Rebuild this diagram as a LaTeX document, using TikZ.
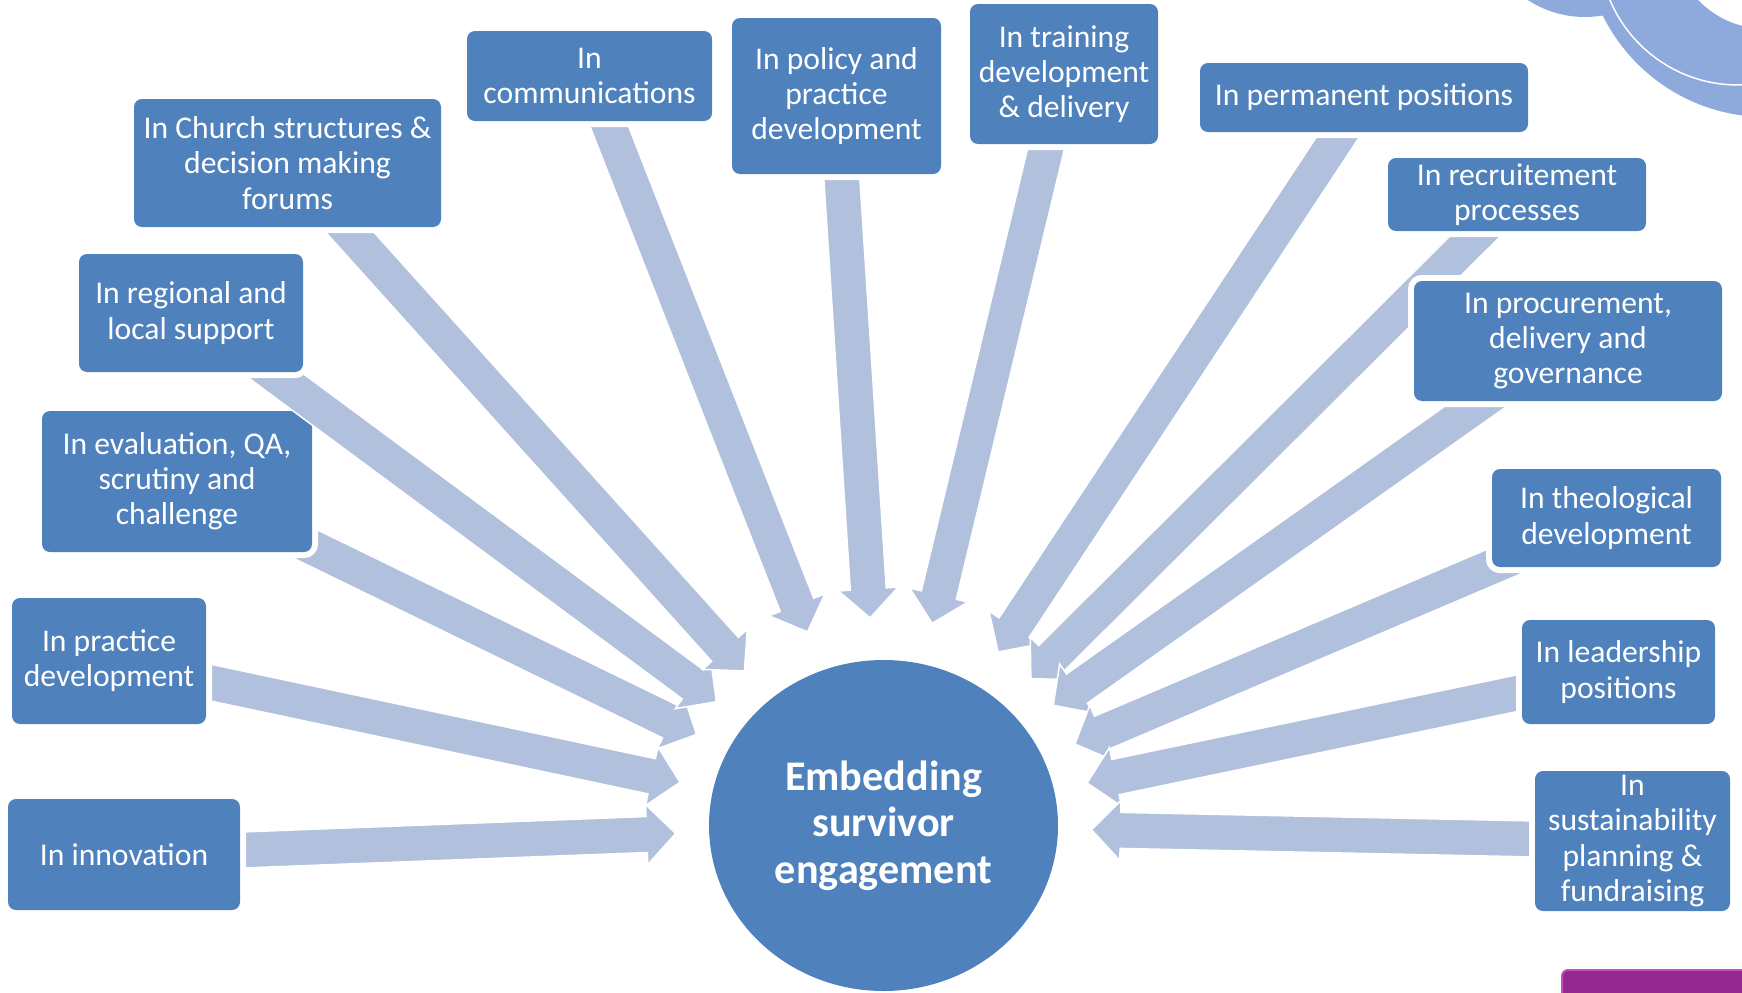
\documentclass[tikz,border=0pt]{standalone}
\usepackage{fontspec}
\setmainfont{Carlito}
\usetikzlibrary{calc,shapes.geometric}
\definecolor{boxblue}{RGB}{79,129,189}
\definecolor{spokeblue}{RGB}{177,193,221}
\definecolor{decoblue}{RGB}{142,169,219}
\definecolor{barpurple}{RGB}{147,40,143}
\definecolor{baredge}{RGB}{196,76,190}
\pgfdeclarelayer{under}
\pgfdeclarelayer{underbox}
\pgfdeclarelayer{spokes}
\pgfsetlayers{under,underbox,spokes,main}
\tikzset{
  topic/.style={rectangle, rounded corners=0.8mm, fill=boxblue, text=white, align=center, inner sep=0pt,
    font=\fontsize{9}{10}\selectfont, preaction={draw=white, line width=1.2mm}},
  hubnode/.style={ellipse, fill=boxblue, text=white, align=center, inner sep=0pt,
    minimum width=34.9mm, minimum height=33.1mm, font=\bfseries\fontsize{12}{13.2}\selectfont},
  spokefill/.style={fill=spokeblue, draw=white, line width=0.15mm},
}
% fat arrow from a box towards the hub
\newcommand{\spoke}[1]{%
  \path ($(hub.center)!20.8mm!(#1.center)$) coordinate (tip)
        ($(tip)!2.9mm!(#1.center)$) coordinate (neck);
  \filldraw[spokefill] ($(#1.center)!1.8mm!90:(tip)$) -- ($(neck)!1.8mm!90:(tip)$)
    -- ($(neck)!3mm!90:(tip)$) -- (tip) -- ($(neck)!3mm!-90:(tip)$)
    -- ($(neck)!1.8mm!-90:(tip)$) -- ($(#1.center)!1.8mm!-90:(tip)$) -- cycle;
}
\begin{document}
\begin{tikzpicture}[x=0.1mm, y=-0.1mm]
\useasboundingbox (0,0) rectangle (1742,992);
\begin{scope}
  \clip (0,0) rectangle (1742,992);
  \fill[decoblue] (1585,-88) circle[radius=10.5mm];
  \fill[decoblue, even odd rule] (1766,-65) circle[radius=18.2mm] (1766,-65) circle[radius=9.4mm];
  \draw[white, line width=0.15mm] (1738,-54) circle[radius=13.9mm];
  \filldraw[fill=barpurple, draw=baredge, line width=0.2mm, rounded corners=0.6mm] (1562,970) rectangle (1800,1060);
\end{scope}

\node[hubnode] (hub) at (883.5,825.5) {Embedding\\survivor\\engagement};

\node[topic, minimum width=23.2mm, minimum height=11.1mm] (innov) at (124,854.5) {In innovation};
\node[topic, minimum width=19.4mm, minimum height=12.6mm] (pract) at (109,661) {In practice\\development};
\begin{pgfonlayer}{underbox}
\node[topic, minimum width=27mm, minimum height=14.1mm] (evalu) at (177,481.5) {In evaluation, QA,\\scrutiny and\\challenge};
\end{pgfonlayer}
\node[topic, minimum width=22.4mm, minimum height=11.8mm] (region) at (191,313) {In regional and\\local support};
\node[topic, minimum width=30.7mm, minimum height=12.8mm] (church) at (287.5,163) {In Church structures \&\\decision making\\forums};
\node[topic, minimum width=24.5mm, minimum height=9mm] (comms) at (589.5,76) {In\\communications};
\node[topic, minimum width=20.9mm, minimum height=15.6mm] (policy) at (836.5,96) {In policy and\\practice\\development};
\node[topic, minimum width=18.8mm, minimum height=14mm] (train) at (1064,74) {In training\\development\\\& delivery};
\node[topic, minimum width=32.8mm, minimum height=6.9mm] (perm) at (1364,97.5) {In permanent positions};
\node[topic, minimum width=25.8mm, minimum height=7.3mm] (recruit) at (1517,194.5) {In recruitement\\processes};
\node[topic, minimum width=30.8mm, minimum height=12mm] (procure) at (1568,341) {In procurement,\\delivery and\\governance};
\node[topic, minimum width=22.9mm, minimum height=9.8mm] (theol) at (1606.5,518) {In theological\\development};
\node[topic, minimum width=19.3mm, minimum height=10.4mm] (lead) at (1618.5,672) {In leadership\\positions};
\node[topic, minimum width=19.5mm, minimum height=14mm] (sustain) at (1632.5,841) {In\\sustainability\\planning \&\\fundraising};

\begin{pgfonlayer}{under}
\spoke{evalu}
\end{pgfonlayer}
\begin{pgfonlayer}{spokes}
\foreach \b in {innov,pract,region,church,comms,policy,train,perm,recruit,procure,theol,lead,sustain}
  {\spoke{\b}}
\end{pgfonlayer}
\end{tikzpicture}
\end{document}
